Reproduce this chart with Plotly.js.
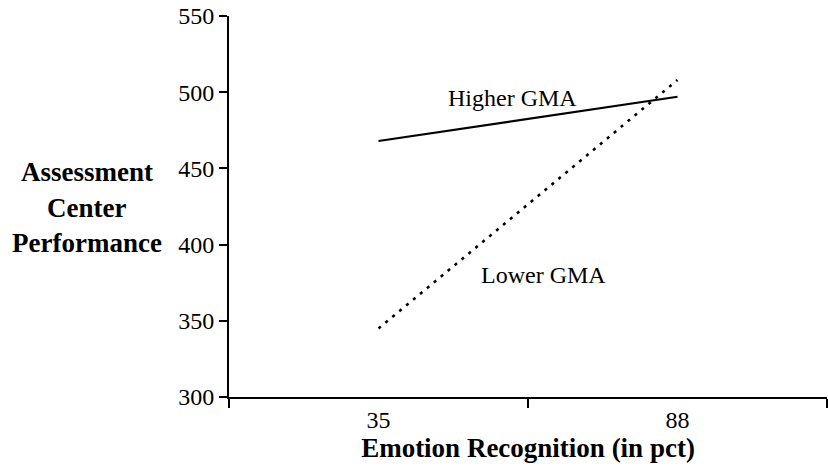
<!DOCTYPE html>
<html>
<head>
<meta charset="utf-8">
<script src="https://cdn.plot.ly/plotly-3.0.1.min.js"></script>
<style>html,body{margin:0;padding:0;background:#fff}#chart{width:828px;height:473px}</style>
</head>
<body>
<div id="chart"></div>
<script>
const categories = ["35", "88"];
const higherGMA = [468, 497];
const lowerGMA = [345, 508];
const seriesNames = ["Higher GMA", "Lower GMA"];
const yTicks = [300, 350, 400, 450, 500, 550];
const yTitleLines = ["Assessment", "Center", "Performance"];
const xTitle = "Emotion Recognition (in pct)";

const serif = "Liberation Serif, Times New Roman, serif";

const traces = [
  {x: categories, y: higherGMA, name: seriesNames[0], type: "scatter", mode: "lines",
   line: {color: "#000", width: 2.2}},
  {x: categories, y: lowerGMA, name: seriesNames[1], type: "scatter", mode: "lines",
   line: {color: "#000", width: 2.6, dash: "3px,6px"}}
];

const titleFont = {family: serif, size: 27, color: "#000", weight: "bold"};
const annotations = [
  {xref: "x", yref: "y", x: 0.447, y: 496, text: seriesNames[0], showarrow: false,
   font: {family: serif, size: 24, color: "#000"}},
  {xref: "x", yref: "y", x: 0.552, y: 380, text: seriesNames[1], showarrow: false,
   font: {family: serif, size: 24, color: "#000"}}
];
const yTitlePx = [172, 208, 243];
yTitleLines.forEach((t, i) => {
  annotations.push({xref: "paper", yref: "paper", x: (87 - 229) / 597.7, y: (397 - yTitlePx[i]) / 381,
    xanchor: "center", yanchor: "middle", text: t, showarrow: false, font: titleFont});
});

const layout = {
  width: 828, height: 473,
  margin: {l: 229, r: 1, t: 16, b: 76},
  paper_bgcolor: "#fff", plot_bgcolor: "#fff",
  showlegend: false,
  xaxis: {
    type: "category", range: [-0.5, 1.5], tickson: "boundaries",
    showline: true, linecolor: "#000", linewidth: 2,
    ticks: "outside", ticklen: 9, tickwidth: 2, tickcolor: "#000",
    showgrid: false, zeroline: false,
    tickfont: {family: serif, size: 24, color: "#000"},
    title: {text: xTitle, font: {family: serif, size: 27, color: "#000", weight: "bold"}, standoff: 5}
  },
  yaxis: {
    range: [300, 550], tickvals: yTicks, ticktext: yTicks.map(String),
    showline: true, linecolor: "#000", linewidth: 2,
    ticks: "outside", ticklen: 8, tickwidth: 2, tickcolor: "#000",
    showgrid: false, zeroline: false,
    tickfont: {family: serif, size: 24, color: "#000"}
  },
  annotations: annotations
};

Plotly.newPlot("chart", traces, layout, {staticPlot: true, displayModeBar: false});
</script>
</body>
</html>
